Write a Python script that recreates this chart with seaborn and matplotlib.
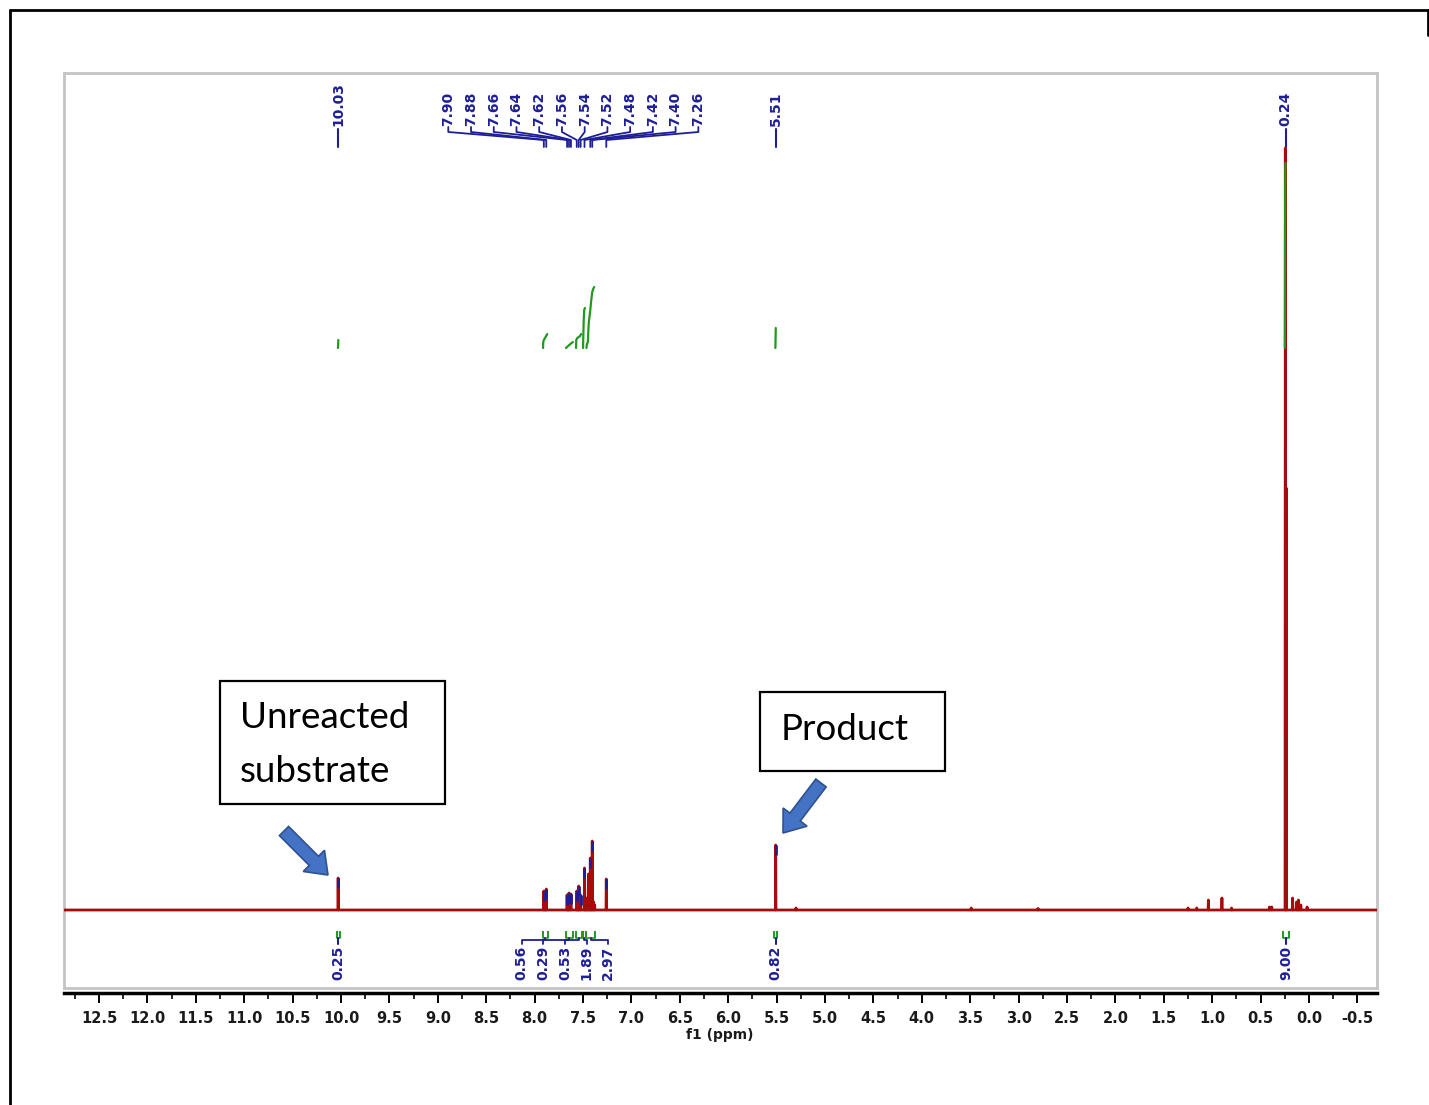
import numpy as np
import pandas as pd
import matplotlib
matplotlib.use("Agg")
import matplotlib.pyplot as plt
import seaborn as sns
from matplotlib.patches import FancyArrow, Rectangle
from matplotlib.ticker import MultipleLocator, FuncFormatter

sns.set_theme(style="white")
plt.rcParams["font.family"] = ["DejaVu Sans"]

# ---------------- data ----------------
# spectrum sticks (ppm, intensity above baseline)
peak_ppm = [10.03, 7.905, 7.89, 7.88, 7.665, 7.655, 7.645, 7.625, 7.565, 7.55, 7.545,
            7.525, 7.485, 7.47, 7.46, 7.445, 7.425, 7.415, 7.405, 7.39, 7.38, 7.26,
            5.51, 5.30, 3.49, 2.80, 1.25, 1.16, 1.04, 0.90, 0.80, 0.41, 0.385,
            0.245, 0.235, 0.17, 0.13, 0.11, 0.085, 0.02]
peak_height = [32, 19, 8, 21, 15, 8, 17, 16, 19, 10, 24,
               15, 42, 12, 10, 36, 52, 20, 69, 8, 5, 31,
               65, 2, 2, 1.5, 2, 2, 10, 12, 2, 3, 3,
               762, 422, 12, 8, 10, 5, 3]

# picked peaks (labels on top)
pick_labels = ["10.03", "7.90", "7.88", "7.66", "7.64", "7.62", "7.56", "7.54", "7.52",
               "7.48", "7.42", "7.40", "7.26", "5.51", "0.24"]
pick_ppm = [10.03, 7.905, 7.88, 7.665, 7.645, 7.625, 7.565, 7.545, 7.525,
            7.485, 7.425, 7.405, 7.26, 5.51, 0.24]
pick_height = [32, 19, 21, 15, 17, 16, 19, 24, 15, 42, 52, 69, 31, 65, 762]

# integrals
int_labels = ["0.25", "0.56", "0.29", "0.53", "1.89", "2.97", "0.82", "9.00"]
int_from = [10.045, 7.913, 7.676, 7.572, 7.500, 7.465, 5.525, 0.27]
int_to = [10.015, 7.865, 7.605, 7.510, 7.470, 7.375, 5.495, 0.21]

int_10_ppm = [10.032, 10.030, 10.028]
int_10_val = [562, 566, 570]
int_a_ppm = [7.913, 7.911, 7.905, 7.893, 7.875, 7.870]
int_a_val = [562, 568, 570, 572, 575, 576]
int_b_ppm = [7.676, 7.655, 7.630, 7.605]
int_b_val = [562, 564, 566, 568]
int_c_ppm = [7.572, 7.570, 7.56, 7.545, 7.53, 7.52]
int_c_val = [562, 570, 572, 573, 574, 576]
int_d_ppm = [7.500, 7.497, 7.493, 7.488, 7.480]
int_d_val = [562, 575, 590, 600, 602]
int_e_ppm = [7.465, 7.460, 7.450, 7.445, 7.440, 7.425, 7.415, 7.405, 7.395, 7.385]
int_e_val = [562, 566, 568, 580, 588, 600, 610, 618, 621, 623]
int_551_ppm = [5.513, 5.511, 5.509]
int_551_val = [562, 572, 582]
int_024_ppm = [0.250, 0.249, 0.247, 0.245, 0.243]
int_024_val = [562, 600, 700, 740, 747]

x_ticks_major = 0.5
x_ticks_minor = 0.25

# ---------------- figure ----------------
W, H = 1429, 1105
fig = plt.figure(figsize=(W / 100, H / 100), dpi=100)
fig.patch.set_facecolor("white")

XL, XR = 12.862, -0.702   # ppm at left/right edge of plot box
YB, YT = -78, 837         # intensity at bottom/top of plot box
def Y(py):                # pixel row -> intensity
    return 910 - py

ax = fig.add_axes([64 / W, 1 - 988 / H, (1377 - 64) / W, (988 - 73) / H])
RED = "#a50d0d"
BLUE = "#1e1e96"
GREEN = "#1f9a1f"

# spectrum trace
order = np.argsort(peak_ppm)[::-1]
w = 0.003
xs, ys = [XL], [0]
for i in order:
    p, h = peak_ppm[i], peak_height[i]
    xs += [p + w, p, p - w]
    ys += [0, h, 0]
xs.append(XR); ys.append(0)
df = pd.DataFrame({"ppm": xs, "intensity": ys})
sns.lineplot(data=df, x="ppm", y="intensity", sort=False, estimator=None,
             color=RED, lw=2, ax=ax, zorder=3)

# blue tips of picked peaks
for p, h in zip(pick_ppm[:-1], pick_height[:-1]):
    ax.vlines(p, h - 10, h, color=BLUE, lw=2, zorder=4)

# integral curves
for px_, pv_ in [(int_10_ppm, int_10_val), (int_a_ppm, int_a_val), (int_b_ppm, int_b_val),
                 (int_c_ppm, int_c_val), (int_d_ppm, int_d_val), (int_e_ppm, int_e_val),
                 (int_551_ppm, int_551_val), (int_024_ppm, int_024_val)]:
    sns.lineplot(x=px_, y=pv_, sort=False, estimator=None, color=GREEN, lw=1.6,
                 ax=ax, zorder=5)

# top peak labels
arom_lx = np.linspace(8.892, 6.309, 12)
lab_font = dict(color=BLUE, fontsize=10, fontweight="bold", rotation=90,
                ha="center", family="DejaVu Sans")
for k, (lab, p) in enumerate(zip(pick_labels, pick_ppm)):
    if 1 <= k <= 12:
        lx = arom_lx[k - 1]
        ax.text(lx, Y(126), lab, va="bottom", **lab_font)
        ax.plot([lx, lx, p, p], [Y(127), Y(132), Y(140), Y(147)], color=BLUE, lw=1.3)
    else:
        ax.text(p, Y(126), lab, va="bottom", **lab_font)
        ax.plot([p, p], [Y(129), Y(147)], color=BLUE, lw=1.5)

# bottom integral labels
bot_lx = np.linspace(8.133, 7.239, 5)
for k, (lab, a, b) in enumerate(zip(int_labels, int_from, int_to)):
    c = (a + b) / 2
    ax.vlines([a, b], Y(938), Y(931), color=GREEN, lw=1.4)
    ax.plot([a, b], [Y(938), Y(938)], color=GREEN, lw=1.2)
    if 1 <= k <= 5:
        lx = bot_lx[k - 1]
        ax.text(lx, Y(946), lab, va="top", **lab_font)
        ax.plot([lx, lx, c, c], [Y(944), Y(940), Y(940), Y(938)], color=BLUE, lw=1.3)
    else:
        ax.text(c, Y(946), lab, va="top", **lab_font)
        ax.plot([c, c], [Y(938), Y(944)], color=BLUE, lw=1.5)

ax.set_xlim(XL, XR)
ax.set_ylim(YB, YT)
ax.set_xticks([]); ax.set_yticks([])
ax.set_xlabel(""); ax.set_ylabel("")
for s in ax.spines.values():
    s.set_visible(True)
    s.set_color("#c4c4c4")
    s.set_linewidth(2)

# ruler axis
ax2 = fig.add_axes([64 / W, 1 - 993 / H, (1377 - 64) / W, 1e-5])
ax2.set_xlim(XL, XR)
ax2.set_yticks([])
for n, s in ax2.spines.items():
    s.set_visible(n == "bottom")
ax2.spines["bottom"].set_color("black")
ax2.spines["bottom"].set_linewidth(2.5)
ax2.xaxis.set_major_locator(MultipleLocator(x_ticks_major))
ax2.xaxis.set_minor_locator(MultipleLocator(x_ticks_minor))
ax2.xaxis.set_major_formatter(FuncFormatter(lambda v, p: f"{v:.1f}" if abs(v) > 1e-9 else "0.0"))
ax2.tick_params(axis="x", which="major", direction="out", length=7, width=1.4,
                color="black", pad=6, labelsize=10.5, bottom=True)
ax2.tick_params(axis="x", which="minor", direction="out", length=4, width=1.2,
                color="black", bottom=True)
for t in ax2.get_xticklabels():
    t.set_fontweight("bold")
    t.set_color("#1a1a1a")

# overlay in pixel coordinates
ov = fig.add_axes([0, 0, 1, 1])
ov.set_xlim(0, W); ov.set_ylim(H, 0)
ov.axis("off")
ov.plot([10, W], [10, 10], color="black", lw=2)
ov.plot([10, 10], [10, H], color="black", lw=2)
ov.plot([1428, 1428], [10, 35], color="black", lw=2)

ov.text(720, 1035, "f1 (ppm)", ha="center", va="center", fontsize=10,
        fontweight="bold", color="#1a1a1a")

ov.add_patch(Rectangle((220, 681), 225, 123, facecolor="white", edgecolor="black", lw=1.6))
ov.text(240, 717, "Unreacted", ha="left", va="center", fontsize=26.5, family="Lato",
        color="black")
ov.text(240, 771, "substrate", ha="left", va="center", fontsize=26.5, family="Lato",
        color="black")
ov.add_patch(Rectangle((760, 692), 185, 79, facecolor="white", edgecolor="black", lw=1.6))
ov.text(781, 729, "Product", ha="left", va="center", fontsize=26.5, family="Lato",
        color="black")

ov.add_patch(FancyArrow(284, 831, 44, 44, width=13, head_width=30, head_length=20,
                        length_includes_head=True, facecolor="#4472c4",
                        edgecolor="#2f528f", lw=1.2))
ov.add_patch(FancyArrow(821, 783, -38, 50, width=13, head_width=30, head_length=20,
                        length_includes_head=True, facecolor="#4472c4",
                        edgecolor="#2f528f", lw=1.2))

fig.savefig("out.png", dpi=100, facecolor="white")
